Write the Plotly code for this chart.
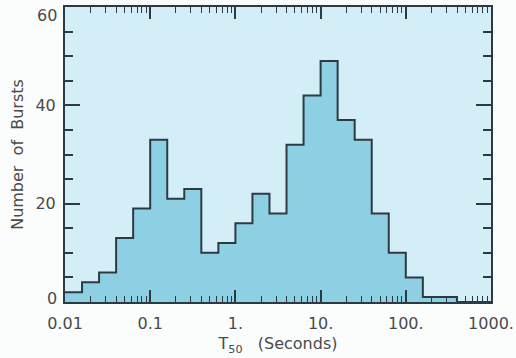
import numpy as np
import plotly.graph_objects as go

# Histogram of T50 durations: 5 log-spaced bins per decade from 0.01 s to 1000 s
bin_edges = list(10 ** np.arange(-2, 3.0001, 0.2))
counts = [2, 4, 6, 13, 19, 33, 21, 23, 10, 12, 16, 22, 18, 32, 42, 49, 37, 33, 18, 10, 5, 1, 1, 0, 0]

x_tickvals = [0.01, 0.1, 1, 10, 100, 1000]
x_ticktext = ["0.01", "0.1", "1.", "10.", "100.", "1000."]
y_tickvals = [0, 20, 40, 60]
y_ticktext = ["0", "20", "40", "60"]

minor_x = [m * 10.0 ** d for d in range(-2, 3) for m in range(2, 10)]

step_x = bin_edges
step_y = counts + [counts[-1]]

FONT = "DejaVu Sans"
TXT = "#4a4a4a"
DARK = "#2e3a42"

fig = go.Figure()
fig.add_trace(go.Scatter(
    x=step_x, y=step_y, mode="lines", line_shape="hv",
    line=dict(color=DARK, width=2), fill="tozeroy", fillcolor="#8dd0e4",
    hoverinfo="skip", showlegend=False))

# end labels of the y axis are nudged inward as in the original figure
inner_text = ["" if v in (y_tickvals[0], y_tickvals[-1]) else t for v, t in zip(y_tickvals, y_ticktext)]
for v, t, shift in [(y_tickvals[0], y_ticktext[0], 4), (y_tickvals[-1], y_ticktext[-1], -8)]:
    fig.add_annotation(x=0, xref="paper", y=v, yref="y", text=t, showarrow=False,
                       xanchor="right", yanchor="middle", xshift=-6, yshift=shift,
                       font=dict(family=FONT, size=16, color=TXT))

fig.update_layout(
    width=516, height=358,
    margin=dict(l=65, r=25, t=7, b=56),
    paper_bgcolor="#fbfdfd", plot_bgcolor="#d4eef8",
    font=dict(family=FONT, size=16, color=TXT),
    showlegend=False,
)
fig.update_xaxes(
    type="log", range=[-2, 3], tickmode="array", tickvals=x_tickvals, ticktext=x_ticktext,
    ticks="inside", ticklen=12, tickwidth=1.5, tickcolor=DARK, automargin=False,
    showline=True, linecolor=DARK, linewidth=2, mirror="allticks",
    showgrid=False, zeroline=False, ticklabelstandoff=6,
    minor=dict(tickmode="array", tickvals=minor_x, ticks="inside", ticklen=6,
               tickwidth=1.2, tickcolor=DARK, showgrid=False),
    title=dict(text="T<sub>50</sub>   (Seconds)", standoff=6, font=dict(size=16, color=TXT)),
)
fig.update_yaxes(
    range=[0, 60], tickmode="array", tickvals=y_tickvals, ticktext=inner_text,
    ticks="inside", ticklen=15, tickwidth=2, tickcolor=DARK, automargin=False,
    showline=True, linecolor=DARK, linewidth=2, mirror="allticks",
    showgrid=False, zeroline=False, ticklabelstandoff=4,
    minor=dict(dtick=5, ticks="inside", ticklen=8, tickwidth=1.5, tickcolor=DARK, showgrid=False),
    title=dict(text="Number  of  Bursts", standoff=8, font=dict(size=16, color=TXT)),
)

fig.write_html("out.html")
